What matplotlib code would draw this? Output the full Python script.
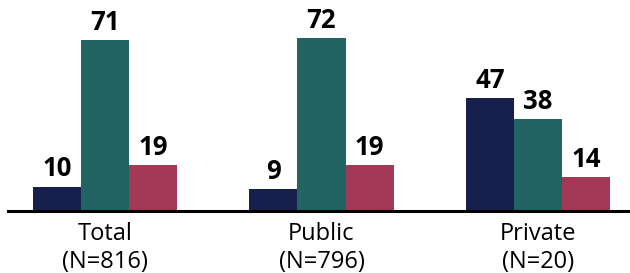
import matplotlib.pyplot as plt
import numpy as np

categories = ['Total\n(N=816)', 'Public\n(N=796)', 'Private\n(N=20)']
series_a = [10, 9, 47]
series_b = [71, 72, 38]
series_c = [19, 19, 14]
colors = ['#17204d', '#216462', '#a23a55']

plt.rcParams['font.family'] = ['Open Sans', 'DejaVu Sans']

fig = plt.figure(figsize=(6.3, 2.73), dpi=100)
ax = fig.add_axes([8 / 630, 62.5 / 273, 622 / 630, 210.5 / 273])

x = np.arange(len(categories))
w = 0.222
for off, vals, col in zip([-w, 0, w], [series_a, series_b, series_c], colors):
    bars = ax.bar(x + off, vals, width=w, color=col, zorder=2)
    for b, v in zip(bars, vals):
        ax.annotate(str(v), (b.get_x() + b.get_width() / 2, v),
                    xytext=(0, 3), textcoords='offset points',
                    ha='center', va='bottom', fontsize=18.5, fontweight='bold')

ax.set_xlim(-0.448, 2.425)
ax.set_ylim(0, 87.9)
for s in ['top', 'right', 'left']:
    ax.spines[s].set_visible(False)
ax.spines['bottom'].set_linewidth(2.2)
ax.spines['bottom'].set_zorder(3)
ax.set_yticks([])
ax.set_xticks(x)
ax.set_xticklabels(categories, fontsize=17, linespacing=1.25)
ax.tick_params(axis='x', length=0, pad=8)

fig.savefig('out.png', dpi=100)
